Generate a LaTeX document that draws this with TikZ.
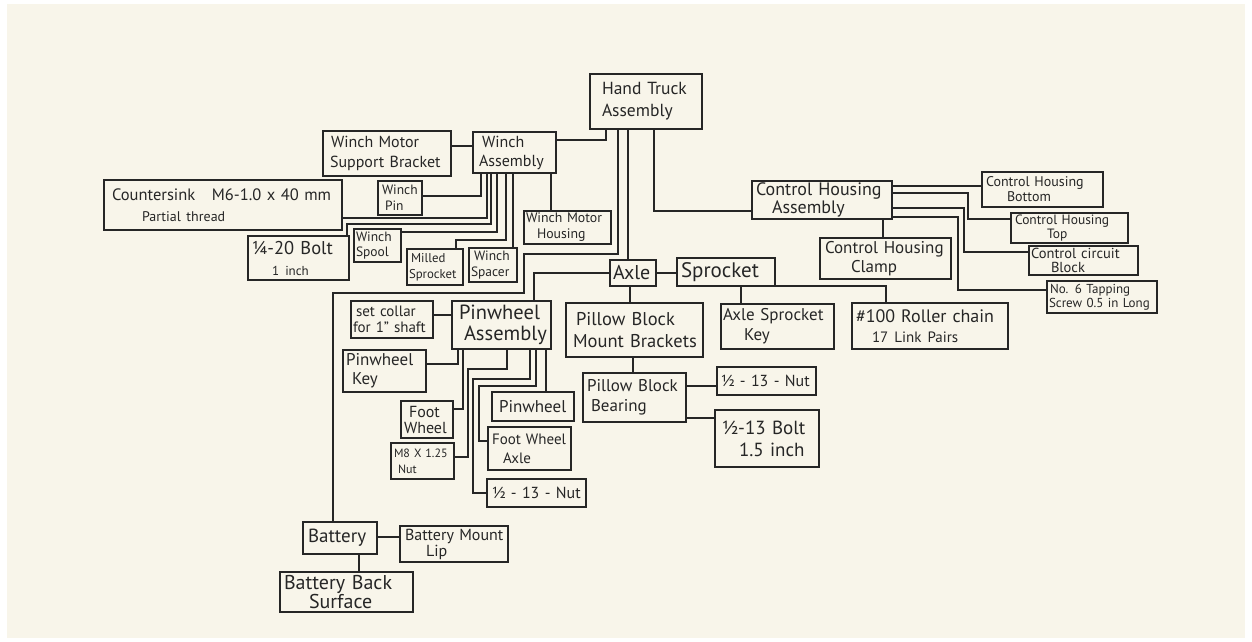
\documentclass[tikz,border=0pt]{standalone}
\usepackage{fontspec}
\setmainfont{PT Sans}
\definecolor{cream}{HTML}{F8F5EA}
\definecolor{ink}{HTML}{262626}
\newcommand\fsz[2]{\fontsize{#1}{#2}\selectfont}
\tikzset{
  box/.style={draw=ink, line width=2pt, inner sep=0pt, outer sep=0pt, align=left, text=ink},
  wire/.style={draw=ink, line width=2pt, line join=miter}
}
\newcommand\mkbox[7]{%
  \pgfmathsetmacro\bxw{#4-#2}\pgfmathsetmacro\bxh{#5-#3}%
  \pgfmathsetmacro\bxt{#4-#2-4}%
  \pgfmathsetmacro\bxcx{(#2+#4)/2}\pgfmathsetmacro\bxcy{(#3+#5)/2}%
  \node[box, minimum width=\bxw pt, minimum height=\bxh pt, text width=\bxt pt, #6] (#1) at (\bxcx,\bxcy) {#7};}
\newcommand\ind[1]{\hspace*{#1pt}}
\begin{document}
\begin{tikzpicture}[x=1pt,y=-1pt]
\useasboundingbox (0,0) rectangle (1252,642);
\fill[white] (0,0) rectangle (1252,642);
\fill[cream] (7,4) rectangle (1245,638);
% boxes
\mkbox{ht}{590}{74}{702}{129}{font=\fsz{17.5}{22}}{\ind{10}Hand Truck\\\ind{10}Assembly}
\mkbox{wmsb}{323}{131}{451}{176}{font=\fsz{16}{20}}{\ind{6}Winch Motor\\\ind{5}Support Bracket}
\mkbox{wa}{473}{132}{556}{173}{font=\fsz{16}{19}}{\ind{7}Winch\\\ind{4}Assembly}
\mkbox{wpin}{378}{181}{422}{215}{font=\fsz{13.5}{16}}{\ind{2}Winch\\\ind{5}Pin}
\mkbox{cs}{104}{180}{342}{230}{font=\fsz{16.5}{21}}{\ind{6}Countersink\quad M6-1.0 x 40 mm\\\ind{36}{\fsz{14}{16}Partial thread}}
\mkbox{bolt}{248}{236}{349}{280}{font=\fsz{18.5}{21}}{\ind{2}¼-20 Bolt\\\ind{22}{\fsz{13}{15}1 inch}}
\mkbox{spool}{354}{229}{401}{262}{font=\fsz{13.5}{15}}{Winch\\Spool}
\mkbox{mill}{407}{249}{463}{285}{font=\fsz{12.8}{16}}{\ind{2}Milled\\Sprocket}
\mkbox{spacer}{469}{248}{517}{282}{font=\fsz{13.5}{16}}{\ind{3}Winch\\Spacer}
\mkbox{wmh}{524}{211}{611}{244}{font=\fsz{13.8}{16}}{Winch Motor\\\ind{11}Housing}
\mkbox{cha}{752}{181}{892}{219}{font=\fsz{18}{18}}{\ind{2}Control Housing\\\ind{18}Assembly}
\mkbox{chb}{982}{172}{1103}{207}{font=\fsz{14}{15}}{\ind{2}Control Housing\\\ind{23}Bottom}
\mkbox{cht}{1011}{213}{1128}{243}{font=\fsz{13.5}{14}}{\ind{2}Control Housing\\\ind{34}Top}
\mkbox{ccb}{1029}{246}{1138}{275}{font=\fsz{14.5}{13.5}}{Control circuit\\\ind{20}Block}
\mkbox{no6}{1047}{281}{1157}{313}{font=\fsz{13}{14}}{\ind{1}No. 6 Tapping\\Screw 0.5 in Long}
\mkbox{chc}{820}{238}{951}{279}{font=\fsz{17}{19}}{\ind{3}Control Housing\\\ind{29}Clamp}
\mkbox{axle}{610}{260}{656}{286}{font=\fsz{20}{20}}{\ind{1}Axle}
\mkbox{spr}{677}{258}{775}{286}{font=\fsz{21}{20}}{\ind{2}Sprocket}
\mkbox{ask}{721}{304}{834}{349}{font=\fsz{17}{20}}{Axle Sprocket\\\ind{21}Key}
\mkbox{chain}{852}{303}{1008}{349}{font=\fsz{18}{20}}{\ind{2}\#100 Roller chain\\\ind{18}{\fsz{15}{16}17 Link Pairs}}
\mkbox{pbmb}{566}{303}{703}{357}{font=\fsz{18.5}{22}}{\ind{8}Pillow Block\\\ind{5}Mount Brackets}
\mkbox{pbb}{583}{373}{686}{422}{font=\fsz{17}{20}}{\ind{2}Pillow Block\\\ind{6}Bearing}
\mkbox{nutr}{717}{367}{816}{395}{font=\fsz{16}{18}}{\ind{2}\mbox{½ - 13 - Nut}}
\mkbox{boltr}{715}{410}{819}{467}{font=\fsz{19}{22}}{\ind{5}½-13 Bolt\\\ind{22}1.5 inch}
\mkbox{sc}{351}{301}{433}{338}{font=\fsz{15}{16}}{\ind{3}set collar\\for 1" shaft}
\mkbox{pa}{452}{301}{551}{349}{font=\fsz{20.5}{21}}{\ind{5}Pinwheel\\\ind{10}Assembly}
\mkbox{pk}{343}{350}{426}{392}{font=\fsz{17}{19}}{\ind{1}Pinwheel\\\ind{7}Key}
\mkbox{fw}{401}{401}{453}{438}{font=\fsz{16}{16}}{\ind{6}Foot\\\ind{1}Wheel}
\mkbox{m8}{391}{443}{454}{479}{font=\fsz{12}{16}}{\ind{1}M8 X 1.25\\\ind{5}Nut}
\mkbox{pw}{492}{392}{574}{421}{font=\fsz{17}{18}}{\ind{5}Pinwheel}
\mkbox{fwa}{488}{427}{571}{470}{font=\fsz{15}{19}}{\ind{2}Foot Wheel\\\ind{13}Axle}
\mkbox{nutl}{487}{479}{586}{507}{font=\fsz{16}{18}}{\ind{3}\mbox{½ - 13 - Nut}}
\mkbox{bat}{303}{522}{377}{554}{font=\fsz{19}{18}}{\ind{3}Battery}
\mkbox{bml}{400}{526}{508}{562}{font=\fsz{16}{16}}{\ind{3}Battery Mount\\\ind{24}Lip}
\mkbox{bbs}{280}{572}{413}{612}{font=\fsz{20}{19}}{\ind{2}Battery Back\\\ind{27}Surface}
% connectors
\draw[wire] (wmsb.east |- 0,146) -- (wa.west |- 0,146);
\draw[wire] (wa.east |- 0,140) -| (ht.south -| 606,0);
\draw[wire] (wa.south -| 481,0) |- (wpin.east |- 0,196);
\draw[wire] (wa.south -| 487,0) |- (cs.east |- 0,218);
\draw[wire] (wa.south -| 491,0) |- (347,224) -- (bolt.north -| 347,0);
\draw[wire] (wa.south -| 497,0) |- (spool.east |- 0,232);
\draw[wire] (wa.south -| 506,0) |- (456,240) -- (mill.north -| 456,0);
\draw[wire] (wa.south -| 513,0) -- (spacer.north -| 513,0);
\draw[wire] (wa.south -| 551,0) -- (wmh.north -| 551,0);
\draw[wire] (ht.south -| 618,0) |- (524,254) |- (333,293) -- (bat.north -| 333,0);
\draw[wire] (ht.south -| 628,0) -- (axle.north -| 628,0);
\draw[wire] (ht.south -| 654,0) |- (cha.west |- 0,211);
\draw[wire] (axle.east |- 0,273) -- (spr.west |- 0,273);
\draw[wire] (axle.west |- 0,273) -| (pa.north -| 534,0);
\draw[wire] (axle.south -| 630,0) -- (pbmb.north -| 630,0);
\draw[wire] (pbmb.south -| 633,0) -- (pbb.north -| 633,0);
\draw[wire] (pbb.east |- 0,386) -- (nutr.west |- 0,386);
\draw[wire] (pbb.east |- 0,418) -- (boltr.west |- 0,418);
\draw[wire] (spr.south -| 741,0) -- (ask.north -| 741,0);
\draw[wire] (spr.south east) -| (chain.north -| 886,0);
\draw[wire] (pa.west |- 0,315) -- (sc.east |- 0,315);
\draw[wire] (pa.south -| 458,0) |- (pk.east |- 0,364);
\draw[wire] (pa.south -| 463,0) |- (fw.east |- 0,409);
\draw[wire] (pa.south -| 507,0) |- (468,369) |- (m8.east |- 0,457);
\draw[wire] (pa.south -| 530,0) |- (473,379) |- (nutl.west |- 0,493);
\draw[wire] (pa.south -| 536,0) |- (479,386) |- (fwa.west |- 0,441);
\draw[wire] (pa.south -| 546,0) -- (pw.north -| 546,0);
\draw[wire] (cha.east |- 0,186) -- (chb.west |- 0,186);
\draw[wire] (cha.east |- 0,193) -| (968,219) -- (cht.west |- 0,219);
\draw[wire] (cha.east |- 0,208) -| (964,252) -- (ccb.west |- 0,252);
\draw[wire] (cha.east |- 0,217) -| (958,290) -- (no6.west |- 0,290);
\draw[wire] (cha.south -| 883,0) -- (chc.north -| 883,0);
\draw[wire] (bat.east |- 0,537) -- (bml.west |- 0,537);
\draw[wire] (bat.south -| 359,0) -- (bbs.north -| 359,0);
\end{tikzpicture}
\end{document}
